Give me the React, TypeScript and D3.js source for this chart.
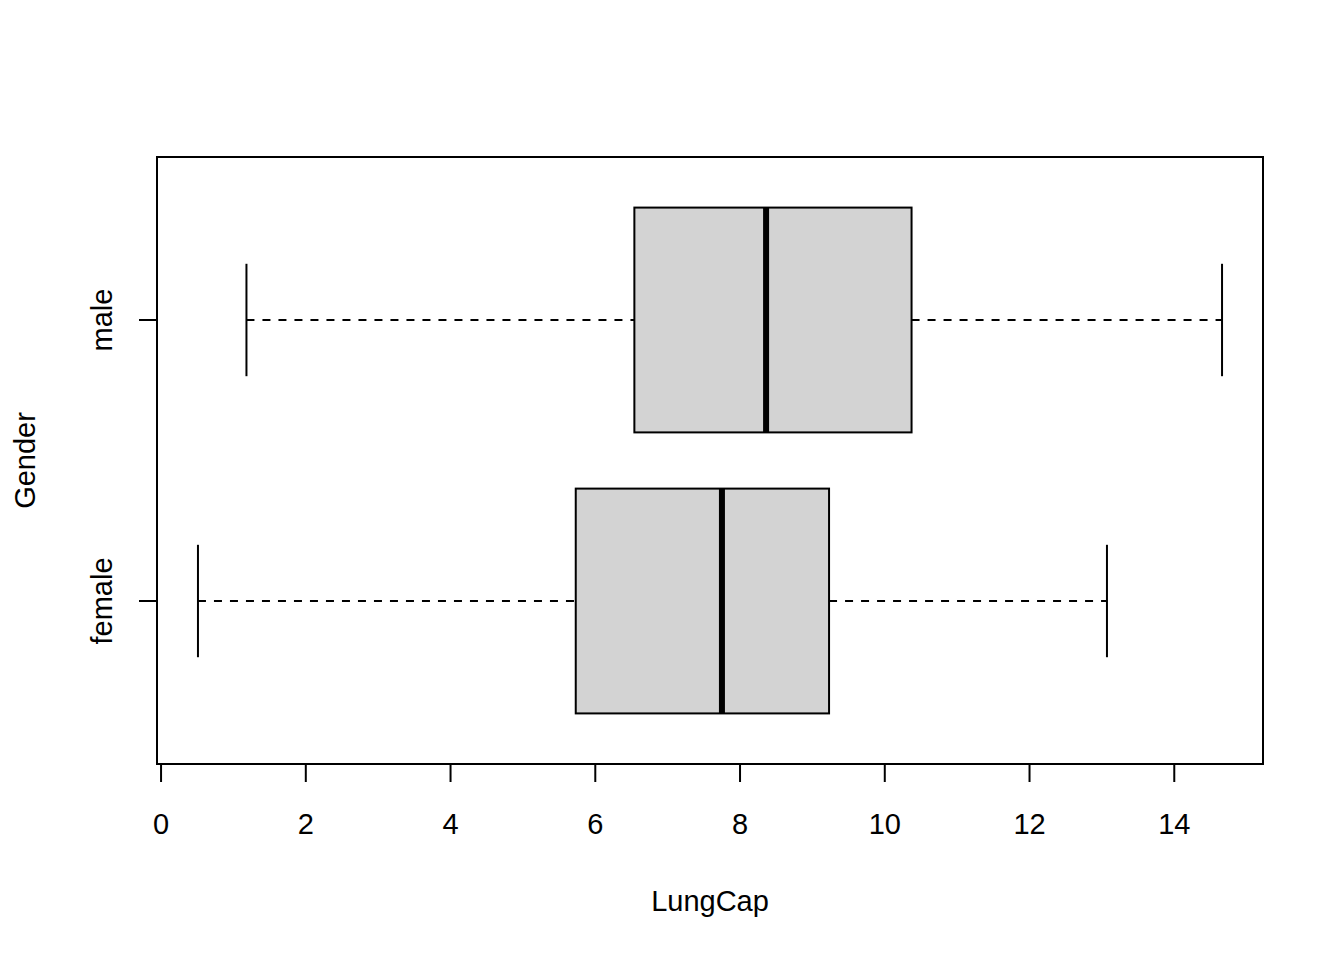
import * as d3 from "d3";

const groups = ["female", "male"];
const lowWhisker = [0.51, 1.18];
const q1 = [5.73, 6.54];
const medians = [7.75, 8.36];
const q3 = [9.23, 10.37];
const highWhisker = [13.07, 14.66];
const xTicks = [0, 2, 4, 6, 8, 10, 12, 14];

const W = 1344, H = 960;
const left = 157, right = 1263, top = 157, bottom = 764;
const font = "'Liberation Sans', Arial, sans-serif";

export default function App() {
  const lo = d3.min(lowWhisker)!, hi = d3.max(highWhisker)!;
  const pad = (hi - lo) * 0.04;
  const x = d3.scaleLinear().domain([lo - pad, hi + pad]).range([left, right]);
  const y = d3.scaleLinear().domain([0.42, 2.58]).range([bottom, top]);
  const half = (y(0) - y(0.4));
  const cap = half / 2;

  return (
    <svg width={W} height={H} style={{ position: "absolute", left: 0, top: 0, background: "white" }}>
      <rect x={left} y={top} width={right - left} height={bottom - top} fill="none" stroke="black" strokeWidth={2} />
      {groups.map((g, i) => {
        const cy = y(i + 1);
        return (
          <g key={g}>
            <line x1={x(lowWhisker[i])} x2={x(q1[i])} y1={cy} y2={cy} stroke="black" strokeWidth={2} strokeDasharray="8,8" />
            <line x1={x(q3[i])} x2={x(highWhisker[i])} y1={cy} y2={cy} stroke="black" strokeWidth={2} strokeDasharray="8,8" />
            <line x1={x(lowWhisker[i])} x2={x(lowWhisker[i])} y1={cy - cap} y2={cy + cap} stroke="black" strokeWidth={2} />
            <line x1={x(highWhisker[i])} x2={x(highWhisker[i])} y1={cy - cap} y2={cy + cap} stroke="black" strokeWidth={2} />
            <rect x={x(q1[i])} y={cy - half} width={x(q3[i]) - x(q1[i])} height={2 * half} fill="#d3d3d3" stroke="black" strokeWidth={2} />
            <line x1={x(medians[i])} x2={x(medians[i])} y1={cy - half} y2={cy + half} stroke="black" strokeWidth={6} />
            <line x1={left} x2={left - 18} y1={cy} y2={cy} stroke="black" strokeWidth={2} />
            <text transform={`translate(112,${cy}) rotate(-90)`} textAnchor="middle" fontFamily={font} fontSize={29}>{g}</text>
          </g>
        );
      })}
      <line x1={x(xTicks[0])} x2={x(xTicks[xTicks.length - 1])} y1={bottom} y2={bottom} stroke="black" strokeWidth={2} />
      {xTicks.map((t) => (
        <g key={t}>
          <line x1={x(t)} x2={x(t)} y1={bottom} y2={bottom + 18} stroke="black" strokeWidth={2} />
          <text x={x(t)} y={834} textAnchor="middle" fontFamily={font} fontSize={29}>{t}</text>
        </g>
      ))}
      <text x={(left + right) / 2} y={911} textAnchor="middle" fontFamily={font} fontSize={29}>LungCap</text>
      <text transform={`translate(35,${(top + bottom) / 2}) rotate(-90)`} textAnchor="middle" fontFamily={font} fontSize={29}>Gender</text>
    </svg>
  );
}
